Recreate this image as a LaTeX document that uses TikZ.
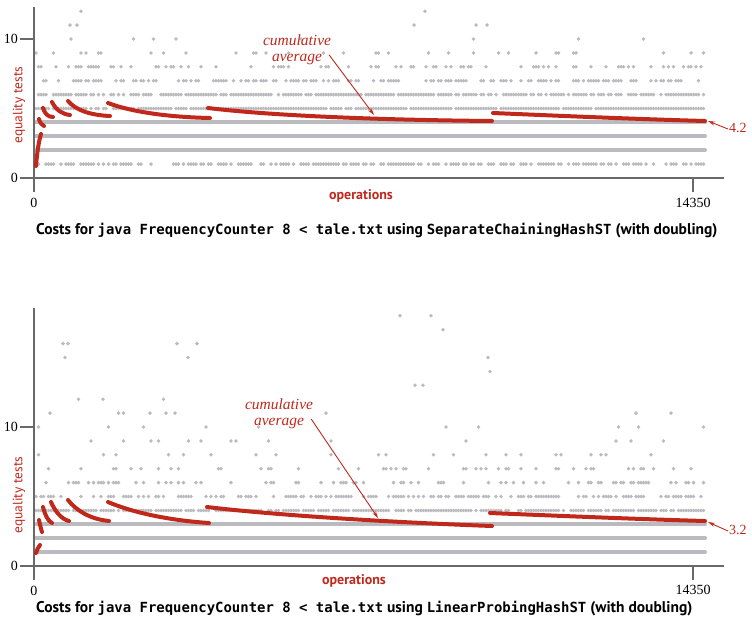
\documentclass[tikz,border=0pt]{standalone}
\usepackage{fontspec}
\setmainfont{Liberation Serif}
\setsansfont{PT Sans}
\setmonofont[Scale=0.9]{DejaVu Sans Mono}
\usepackage{tikz}
\usetikzlibrary{positioning}
\usetikzlibrary{arrows.meta}

\definecolor{dotgray}{RGB}{186,186,191}
\definecolor{avgred}{RGB}{192,40,28}
\definecolor{axisgray}{RGB}{105,105,105}

% one row of cost dots per level, kept with probability p
\newcommand{\dotrows}[1]{%
  \foreach \lev/\p in {#1}{%
    \foreach \x in {2,4.5,...,671}{%
      \pgfmathtruncatemacro{\hit}{rnd<\p}%
      \ifnum\hit=1 \fill[hitdot] (\x,-13.9*\lev) circle[radius=1.9pt];\fi
    }%
  }%
}

\begin{document}
\begin{tikzpicture}[x=1pt,y=-1pt]
    \tikzset{hitdot/.style = {dotgray}}
    \tikzset{rowline/.style = {dotgray, line width=4pt, line cap=round}}
    \tikzset{axis/.style = {axisgray, line width=1.4pt}}
    \tikzset{avg/.style = {avgred, line width=4pt, line cap=round}}
    \tikzset{note/.style = {avgred, -{Stealth[length=7pt,width=4pt]}, line width=0.9pt}}
    \tikzset{ticklab/.style = {font=\fontsize{14}{16}\selectfont, inner sep=1pt}}
    \tikzset{redlab/.style = {avgred, font=\sffamily\fontsize{13.5}{15}\selectfont}}
    \tikzset{cumlab/.style = {avgred, align=center, inner sep=1pt,
      font=\itshape\fontsize{15.5}{15.5}\selectfont}}
    \tikzset{title/.style = {anchor=west, inner sep=0pt,
      font=\sffamily\bfseries\fontsize{15.5}{17}\selectfont}}

    \useasboundingbox (0,0) rectangle (752,625);
    \pgfmathsetseed{4217}

    \begin{scope}[shift={(34,178)}]
      % dots
      \foreach \lev in {2,3,4}
        \draw[rowline] (2,-13.9*\lev) -- (671,-13.9*\lev);
      \dotrows{1/0.62,5/0.95,6/0.82,7/0.5,8/0.28,9/0.11,10/0.045}
      \foreach \x/\lev in {36/11,43/11,380/11,442/11,453/11,47/12,391/12}
        \fill[hitdot] (\x,-13.9*\lev) circle[radius=1.9pt];

      % axes
      \draw[axis] (0,-171) -- (0,14);
      \draw[axis] (-14,0) -- (690,0);
      \draw[axis] (-14,-139) -- (0,-139);
      \draw[axis] (659,0) -- (659,14);
      \node[ticklab, anchor=east] (ytena) at (-15,-139) {10};
      \node[ticklab, anchor=east] (yzeroa) at (-15,0) {0};
      \node[ticklab] (xzeroa) at (0,25) {0};
      \node[ticklab] (xmaxa) at (659,25) {14350};
      \node[redlab, font=\sffamily\bfseries\fontsize{14}{16}\selectfont] (opsa) at (327,18) {operations};
      \node[redlab, rotate=90] (eqa) at (-15,-73) {equality tests};

      % cumulative average
      \draw[avg] (2,-12) .. controls (3,-25) and (5,-38) .. (7,-44);
      \draw[avg] (5,-59) .. controls (6,-55) and (8,-53) .. (10,-52);
      \draw[avg] (9,-70) .. controls (11,-64) and (14,-61) .. (19,-61);
      \draw[avg] (18,-76) .. controls (22,-68) and (28,-64) .. (36,-63);
      \draw[avg] (34,-77) .. controls (42,-68) and (55,-63) .. (76,-62);
      \draw[avg] (74,-75) .. controls (95,-67) and (130,-61) .. (176,-60);
      \draw[avg] (174,-70) .. controls (240,-62) and (350,-58) .. (458,-57);
      \draw[avg] (459,-65) .. controls (530,-62) and (600,-59) .. (671,-57);

      \node[cumlab] (cuma) at (263,-128) {cumulative\\average};
      \coordinate (cumtipa) at (340,-63);
      \draw[note] ([xshift=-3pt,yshift=-5pt]cuma.east) -- (cumtipa);
      \node[avgred, ticklab, anchor=west] (vala) at (694,-50) {4.2};
      \coordinate (valtipa) at (674,-57);
      \draw[note] ([yshift=-1pt]vala.west) -- (valtipa);

      \node[title] (titlea) at (2,53)
        {Costs for \texttt{java FrequencyCounter 8 < tale.txt} using \texttt{SeparateChainingHashST} (with doubling)};
    \end{scope}

    \begin{scope}[shift={(34,566)}]
      % dots
      \foreach \lev in {1,2,3}
        \draw[rowline] (2,-13.9*\lev) -- (671,-13.9*\lev);
      \dotrows{4/0.86,5/0.55,6/0.3,7/0.15,8/0.09,9/0.06,10/0.04,11/0.02,12/0.012}
      \foreach \x/\lev in {366/18,397/18,409/17,29/16,34/16,143/16,163/16,
          31/15,154/15,454/15,456/14,381/13,389/13,69/12,16/11,116/11,141/11}
        \fill[hitdot] (\x,-13.9*\lev) circle[radius=1.9pt];

      % axes
      \draw[axis] (0,-258) -- (0,14);
      \draw[axis] (-14,0) -- (690,0);
      \draw[axis] (-14,-139) -- (0,-139);
      \draw[axis] (659,0) -- (659,14);
      \node[ticklab, anchor=east] (ytenb) at (-15,-139) {10};
      \node[ticklab, anchor=east] (yzerob) at (-15,0) {0};
      \node[ticklab] (xzerob) at (0,25) {0};
      \node[ticklab] (xmaxb) at (659,24) {14350};
      \node[redlab, font=\sffamily\bfseries\fontsize{14}{16}\selectfont] (opsb) at (320,15) {operations};
      \node[redlab, rotate=90] (eqb) at (-15,-71) {equality tests};

      % cumulative average
      \draw[avg] (2,-13) .. controls (3,-16) and (4,-19) .. (6,-21);
      \draw[avg] (5,-46) .. controls (6,-41) and (7,-37) .. (8,-34);
      \draw[avg] (9,-59) .. controls (11,-51) and (14,-45) .. (18,-43);
      \draw[avg] (17,-64) .. controls (21,-55) and (27,-47) .. (35,-45);
      \draw[avg] (34,-66) .. controls (42,-56) and (55,-47) .. (75,-45);
      \draw[avg] (74,-64) .. controls (95,-55) and (130,-46) .. (175,-43);
      \draw[avg] (173,-59) .. controls (240,-51) and (350,-44) .. (458,-40);
      \draw[avg] (456,-53) .. controls (530,-50) and (600,-47) .. (671,-45);

      \node[cumlab] (cumb) at (245,-152) {cumulative\\average};
      \coordinate (cumtipb) at (344,-48);
      \draw[note] ([xshift=-3pt,yshift=-5pt]cumb.east) -- (cumtipb);
      \node[avgred, ticklab, anchor=west] (valb) at (694,-36) {3.2};
      \coordinate (valtipb) at (674,-44);
      \draw[note] ([yshift=-1pt]valb.west) -- (valtipb);

      \node[title] (titleb) at (2,43)
        {Costs for \texttt{java FrequencyCounter 8 < tale.txt} using \texttt{LinearProbingHashST} (with doubling)};
    \end{scope}
\end{tikzpicture}
\end{document}
